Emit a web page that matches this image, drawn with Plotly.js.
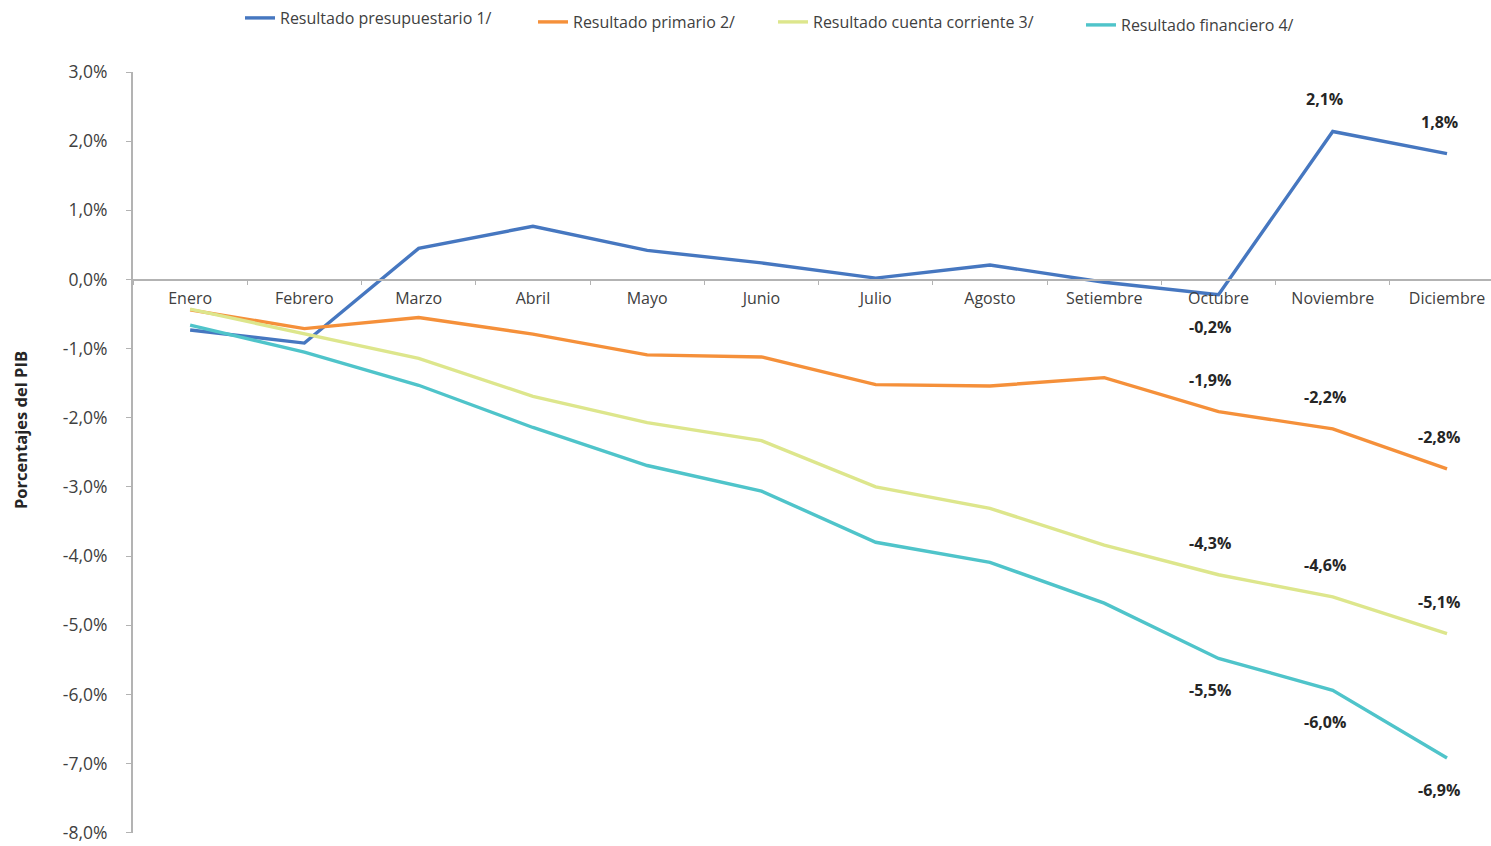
<!DOCTYPE html>
<html>
<head>
<meta charset="utf-8">
<script src="https://cdn.plot.ly/plotly-3.0.1.min.js"></script>
<style>html,body{margin:0;padding:0;background:#fff;}#chart{width:1491px;height:846px;}</style>
</head>
<body>
<div id="chart"></div>
<script>
const months = ["Enero","Febrero","Marzo","Abril","Mayo","Junio","Julio","Agosto","Setiembre","Octubre","Noviembre","Diciembre"];
const presupuestario = [-0.73, -0.92, 0.45, 0.77, 0.42, 0.24, 0.02, 0.21, -0.04, -0.22, 2.14, 1.82];
const primario = [-0.44, -0.71, -0.55, -0.79, -1.09, -1.12, -1.52, -1.54, -1.42, -1.91, -2.16, -2.74];
const cuentaCorriente = [-0.43, -0.79, -1.14, -1.69, -2.07, -2.33, -3.00, -3.31, -3.84, -4.27, -4.59, -5.12];
const financiero = [-0.66, -1.05, -1.53, -2.14, -2.69, -3.06, -3.80, -4.09, -4.68, -5.48, -5.94, -6.92];
const seriesNames = ["Resultado presupuestario 1/","Resultado primario 2/","Resultado cuenta corriente 3/","Resultado financiero 4/"];
const colors = ["#4677c0","#f5903a","#dde68c","#4fc4ca"];
const yTicks = [3,2,1,0,-1,-2,-3,-4,-5,-6,-7,-8];
const yTickText = ["3,0%","2,0%","1,0%","0,0%","-1,0%","-2,0%","-3,0%","-4,0%","-5,0%","-6,0%","-7,0%","-8,0%"];
const yTitle = "Porcentajes del PIB";
// labelled points
const labelSeries = [0,0,0,1,1,1,2,2,2,3,3,3];
const labelMonth = [9,10,11,9,10,11,9,10,11,9,10,11];
const labelText = ["-0,2%","2,1%","1,8%","-1,9%","-2,2%","-2,8%","-4,3%","-4,6%","-5,1%","-5,5%","-6,0%","-6,9%"];
const labelSide = [-1,1,1,1,1,1,1,1,1,-1,-1,-1];

const allSeries = [presupuestario, primario, cuentaCorriente, financiero];
const font = "'Open Sans', 'Noto Sans', sans-serif";
const legendIds = ['legend','legend2','legend3','legend4'];
const legendX = [240, 533, 773, 1081];
const legendY = [1, 5, 5, 8];

const traces = allSeries.map((s,i)=>({
  x: months, y: s, type:'scatter', mode:'lines', name: seriesNames[i],
  legend: legendIds[i],
  line:{color: colors[i], width:3.4}
}));

const annotations = labelText.map((t,k)=>({
  x: months[labelMonth[k]], y: allSeries[labelSeries[k]][labelMonth[k]],
  xref:'x', yref:'y', text:'<b>'+t+'</b>', showarrow:false,
  xshift:-8, yshift: labelSide[k]*32,
  font:{family:font, size:16, color:'#262626'}
}));
annotations.push({
  xref:'paper', yref:'paper', x:(20-133)/1358, y:(833-430)/761,
  text:'<b>'+yTitle+'</b>', textangle:-90, showarrow:false,
  xanchor:'center', yanchor:'middle',
  font:{family:font, size:16.5, color:'#262626'}
});

const layout = {
  width:1491, height:846,
  margin:{l:133, r:0, t:72, b:13},
  paper_bgcolor:'#fff', plot_bgcolor:'#fff',
  font:{family:font, color:'#404040', size:16},
  showlegend:true,
  xaxis:{type:'category', range:[-0.5, 11.385], anchor:'free', position:8/11,
    showline:true, linecolor:'#b3b3b3', linewidth:2, showgrid:false, zeroline:false,
    ticks:'outside', ticklen:4, tickcolor:'#b3b3b3', tickson:'boundaries', ticklabelstandoff:4,
    tickfont:{family:font, size:16, color:'#404040'}, fixedrange:true},
  yaxis:{range:[-8.004,3], tickmode:'array', tickvals:yTicks, ticktext:yTickText,
    showline:true, linecolor:'#b3b3b3', linewidth:2, showgrid:false, zeroline:false,
    ticks:'outside', ticklen:5, tickcolor:'#b3b3b3', ticklabelstandoff:15,
    ticklabeloverflow:'allow',
    tickfont:{family:font, size:17.5, color:'#404040'}},
  annotations: annotations
};
legendIds.forEach((id,i)=>{
  layout[id] = {orientation:'h', xref:'container', x: legendX[i]/1491, yref:'container',
    y: 1 - legendY[i]/846, yanchor:'top', xanchor:'left', bgcolor:'rgba(0,0,0,0)',
    font:{family:font, size:16, color:'#404040'}};
});
Plotly.newPlot('chart', traces, layout, {displayModeBar:false, staticPlot:true});
</script>
</body>
</html>
